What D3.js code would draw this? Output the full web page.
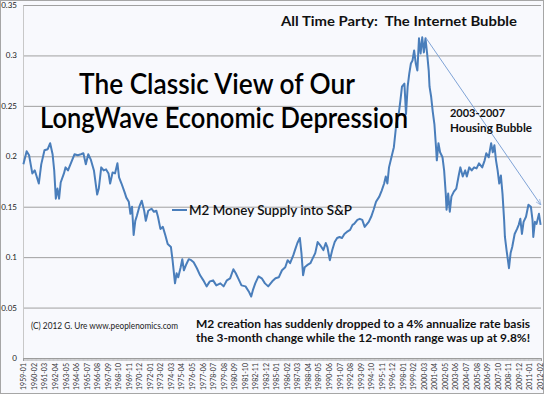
<!DOCTYPE html>
<html>
<head>
<meta charset="utf-8">
<script src="https://cdn.jsdelivr.net/npm/d3@7"></script>
<style>
  body { margin: 0; background: #fff; }
  svg { display: block; font-family: Lato, "Open Sans", sans-serif; }
</style>
</head>
<body>
<div id="chart"></div>
<script>
const width = 544;
const height = 394;

// months counted from 1959-01
const monthIdx = [
  0, 4, 7, 9, 11, 14, 16, 19, 22, 26, 30, 33, 36, 38, 40, 42, 44, 46, 50, 52,
  55, 59, 63, 67, 71, 74, 77, 80, 83, 87, 90, 91, 93, 96, 99, 102, 105, 107, 110, 113,
  116, 118, 121, 125, 127, 130, 132, 134, 136, 138, 140, 143, 146, 149, 151, 154, 158, 161, 164, 166,
  169, 172, 175, 178, 182, 184, 187, 189, 191, 194, 196, 198, 201, 204, 207, 210, 214, 218, 222, 226,
  230, 234, 238, 243, 247, 251, 255, 259, 262, 265, 269, 274, 278, 281, 283, 286, 290, 294, 298, 302,
  307, 311, 315, 319, 323, 326, 329, 333, 335, 338, 341, 343, 345, 347, 350, 354, 357, 360, 363, 366,
  370, 373, 375, 378, 381, 384, 387, 390, 393, 396, 399, 403, 406, 408, 412, 415, 418, 421, 424, 426,
  429, 432, 435, 439, 442, 445, 447, 449, 451, 454, 457, 460, 463, 465, 467, 470, 472, 474, 476, 478,
  480, 482, 484, 486, 488, 490, 492, 494, 496, 498, 500, 501, 503, 505, 507, 509, 510, 512, 514, 517,
  519, 521, 522, 524, 526, 528, 531, 534, 537, 539, 542, 545, 547, 550, 553, 556, 559, 562, 566, 569,
  571, 574, 577, 579, 581, 583, 585, 587, 589, 591, 593, 594, 596, 599, 601, 603, 606, 609, 611, 613,
  615, 617, 620, 623, 626, 628, 629, 631, 633, 636, 638
];
// M2 money supply into S&P
const m2Ratio = [
  0.192, 0.205, 0.201, 0.192, 0.183, 0.186, 0.181, 0.173, 0.192, 0.206, 0.207, 0.213, 0.202, 0.186, 0.158, 0.168, 0.158, 0.174, 0.183, 0.189,
  0.186, 0.194, 0.202, 0.201, 0.202, 0.203, 0.192, 0.202, 0.197, 0.186, 0.168, 0.162, 0.168, 0.189, 0.186, 0.187, 0.183, 0.173, 0.184, 0.183,
  0.193, 0.179, 0.173, 0.164, 0.159, 0.155, 0.143, 0.150, 0.122, 0.136, 0.141, 0.150, 0.156, 0.146, 0.136, 0.146, 0.148, 0.145, 0.146, 0.140,
  0.128, 0.130, 0.122, 0.113, 0.110, 0.097, 0.074, 0.084, 0.080, 0.090, 0.098, 0.087, 0.093, 0.098, 0.097, 0.095, 0.089, 0.082, 0.077, 0.071,
  0.076, 0.077, 0.072, 0.074, 0.071, 0.077, 0.079, 0.088, 0.084, 0.079, 0.072, 0.071, 0.066, 0.061, 0.067, 0.074, 0.081, 0.079, 0.074, 0.071,
  0.076, 0.079, 0.080, 0.087, 0.090, 0.097, 0.094, 0.102, 0.107, 0.114, 0.119, 0.104, 0.082, 0.090, 0.092, 0.094, 0.099, 0.104, 0.115, 0.112,
  0.107, 0.114, 0.110, 0.097, 0.107, 0.115, 0.119, 0.120, 0.119, 0.123, 0.125, 0.127, 0.132, 0.133, 0.137, 0.138, 0.137, 0.130, 0.133, 0.135,
  0.140, 0.147, 0.155, 0.160, 0.166, 0.173, 0.180, 0.173, 0.189, 0.199, 0.209, 0.232, 0.242, 0.255, 0.269, 0.272, 0.242, 0.269, 0.282, 0.292,
  0.295, 0.305, 0.292, 0.285, 0.317, 0.302, 0.318, 0.303, 0.317, 0.302, 0.285, 0.269, 0.259, 0.244, 0.232, 0.209, 0.196, 0.213, 0.204, 0.199,
  0.186, 0.163, 0.147, 0.163, 0.145, 0.160, 0.165, 0.168, 0.181, 0.189, 0.180, 0.186, 0.180, 0.189, 0.186, 0.189, 0.188, 0.193, 0.189, 0.196,
  0.203, 0.199, 0.213, 0.204, 0.211, 0.196, 0.186, 0.173, 0.181, 0.163, 0.137, 0.120, 0.107, 0.089, 0.104, 0.110, 0.123, 0.128, 0.132, 0.138,
  0.123, 0.135, 0.140, 0.152, 0.150, 0.137, 0.120, 0.135, 0.133, 0.143, 0.132
];
const tickLabels = [
  "1959-01", "1960-02", "1961-03", "1962-04", "1963-05", "1964-06", "1965-07", "1966-08", "1967-09", "1968-10",
  "1969-11", "1970-12", "1972-01", "1973-02", "1974-03", "1975-04", "1976-05", "1977-06", "1978-07", "1979-08",
  "1980-09", "1981-10", "1982-11", "1983-12", "1985-01", "1986-02", "1987-03", "1988-04", "1989-05", "1990-06",
  "1991-07", "1992-08", "1993-09", "1994-10", "1995-11", "1996-12", "1998-01", "1999-02", "2000-03", "2001-04",
  "2002-05", "2003-06", "2004-07", "2005-08", "2006-09", "2007-10", "2008-11", "2009-12", "2011-01", "2012-02"
];
const yTicks = [0, 0.05, 0.1, 0.15, 0.2, 0.25, 0.3, 0.35];
const nMonths = 639;
// the drawn arrow from the bubble top to the last reading
const trendFrom = [496, 0.318];
const trendTo = [638, 0.152];

const lineColor = "#4a7ebb";

const labelIdx = (s) => (+s.slice(0, 4) - 1959) * 12 + (+s.slice(5) - 1);

const svg = d3.select("#chart")
  .append("svg")
  .attr("width", width)
  .attr("height", height);

svg.append("rect")
  .attr("x", 0.5).attr("y", 0.5)
  .attr("width", width - 1).attr("height", height - 1)
  .attr("fill", "#f8f9fd")
  .attr("stroke", "#a6a6a6");

const xScale = d3.scaleLinear().domain([0, nMonths]).range([23, 541]);
const yScale = d3.scaleLinear().domain([0, 0.35]).range([358, 5]);

// gridlines
svg.append("g")
  .attr("transform", "translate(23,0)")
  .call(d3.axisLeft(yScale).tickValues(yTicks).tickSize(-518).tickFormat(""))
  .call(g => g.select(".domain").remove())
  .call(g => g.selectAll("line").attr("stroke", "#a0a0a0"));

// y axis
svg.append("g")
  .attr("transform", "translate(23,0)")
  .call(d3.axisLeft(yScale).tickValues(yTicks).tickSize(0).tickPadding(6).tickFormat(d => String(d)))
  .call(g => g.select(".domain").attr("stroke", "#c8c8c8"))
  .call(g => g.selectAll("text").attr("font-size", 8).attr("fill", "#222").attr("font-family", "Lato, sans-serif"));

// x axis: minor ticks for every month
svg.append("g")
  .attr("transform", "translate(0,358)")
  .call(d3.axisBottom(xScale).tickValues(d3.range(nMonths + 1)).tickSize(3).tickFormat(""))
  .call(g => g.select(".domain").attr("stroke", "#a0a0a0"))
  .call(g => g.selectAll(".tick line").attr("stroke", "#9a9a9a").attr("stroke-width", 0.4));

// x axis labels every 13 months
svg.append("g")
  .attr("transform", "translate(0,358)")
  .call(d3.axisBottom(xScale).tickValues(tickLabels.map(s => labelIdx(s) + 0.5)).tickSize(0)
    .tickFormat((d, i) => tickLabels[i]))
  .call(g => g.select(".domain").remove())
  .call(g => g.selectAll("text")
    .attr("font-size", 7)
    .attr("fill", "#333")
    .attr("font-family", "Lato, sans-serif")
    .attr("text-anchor", "end")
    .attr("transform", "rotate(-90)")
    .attr("x", -5)
    .attr("y", 0)
    .attr("dy", "0.35em"));

// arrow marker
svg.append("defs").append("marker")
  .attr("id", "arrow")
  .attr("viewBox", "0 0 10 10")
  .attr("refX", 9).attr("refY", 5)
  .attr("markerWidth", 6).attr("markerHeight", 6)
  .attr("orient", "auto")
  .append("path")
  .attr("d", "M0,1 L10,5 L0,9")
  .attr("fill", "none")
  .attr("stroke", "#7fa3d6");

const series = monthIdx.map((m, i) => [m, m2Ratio[i]]);

const line = d3.line()
  .x(d => xScale(d[0] + 0.5))
  .y(d => yScale(d[1]));

svg.append("path")
  .datum(series)
  .attr("fill", "none")
  .attr("stroke", lineColor)
  .attr("stroke-width", 2)
  .attr("stroke-linejoin", "round")
  .attr("d", line);

svg.append("path")
  .datum([trendFrom, trendTo])
  .attr("fill", "none")
  .attr("stroke", "#7fa3d6")
  .attr("stroke-width", 1)
  .attr("marker-end", "url(#arrow)")
  .attr("d", line);

// text helper: squeeze a text to the width it has in the picture
const fit = (sel, w) => sel.attr("textLength", w).attr("lengthAdjust", "spacingAndGlyphs");

// legend
svg.append("line")
  .attr("x1", 172).attr("x2", 187)
  .attr("y1", 210).attr("y2", 210)
  .attr("stroke", lineColor).attr("stroke-width", 2);
svg.append("text")
  .attr("x", 189).attr("y", 214.5)
  .attr("font-size", 13.5)
  .attr("font-weight", 600)
  .attr("fill", "#111")
  .text("M2 Money Supply into S&P")
  .call(fit, 163);

// titles and notes
const title = svg.append("g")
  .attr("font-size", 28.5)
  .attr("font-weight", 600)
  .attr("fill", "#000");
title.append("text").attr("x", 79).attr("y", 93.5).text("The Classic View of Our").call(fit, 276);
title.append("text").attr("x", 40).attr("y", 127.5).text("LongWave Economic Depression").call(fit, 368);

svg.append("text")
  .attr("x", 281).attr("y", 25.5)
  .attr("font-size", 13.5)
  .attr("font-weight", "bold")
  .attr("fill", "#111")
  .attr("xml:space", "preserve")
  .style("white-space", "pre")
  .text("All Time Party:  The Internet Bubble")
  .call(fit, 236);

const housing = svg.append("g")
  .attr("font-size", 11.5)
  .attr("font-weight", "bold")
  .attr("fill", "#111");
housing.append("text").attr("x", 450).attr("y", 117).text("2003-2007").call(fit, 55);
housing.append("text").attr("x", 450).attr("y", 131.5).text("Housing Bubble").call(fit, 82);

svg.append("text")
  .attr("x", 31).attr("y", 329)
  .attr("font-size", 8.5)
  .attr("fill", "#222")
  .text("(C) 2012 G. Ure www.peoplenomics.com")
  .call(fit, 147);

const note = svg.append("g")
  .attr("font-size", 12)
  .attr("font-weight", "bold")
  .attr("fill", "#111");
note.append("text").attr("x", 196).attr("y", 327.5)
  .text("M2 creation has suddenly dropped to a 4% annualize rate basis").call(fit, 334);
note.append("text").attr("x", 196).attr("y", 341.5)
  .text("the 3-month change while the 12-month range was up at 9.8%!").call(fit, 334);
</script>
</body>
</html>
